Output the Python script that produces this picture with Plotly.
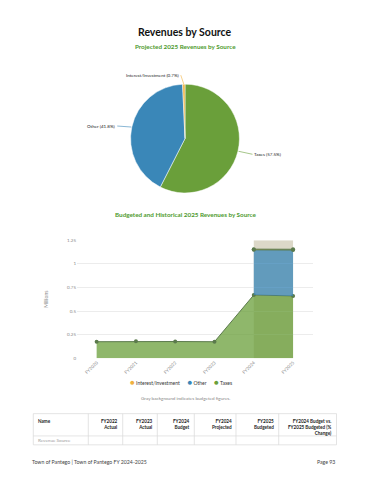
import math
import plotly.graph_objects as go

# ---------------- data ----------------
pie_labels = ["Taxes", "Other", "Interest/Investment"]
pie_values = [57.5, 41.8, 0.7]
pie_colors = ["#6a9f3a", "#3a87b8", "#f0b13f"]

years = ["FY2020", "FY2021", "FY2022", "FY2023", "FY2024", "FY2025"]
taxes = [0.175, 0.180, 0.177, 0.175, 0.670, 0.660]
other = [None, None, None, None, 0.478, 0.486]
interest = [None, None, None, None, 0.007, 0.008]
budgeted_years = ["FY2024", "FY2025"]
y_ticks = [0, 0.25, 0.5, 0.75, 1, 1.25]
y_tick_text = ["0", "0.25", "0.5", "0.75", "1", "1.25"]

legend_names = ["Interest/Investment", "Other", "Taxes"]
legend_colors = ["#f0b13f", "#3a87b8", "#6a9f3a"]

table_headers = ["Name", "FY2022<br>Actual", "FY2023<br>Actual", "FY2024<br>Budget",
                 "FY2024<br>Projected", "FY2025<br>Budgeted",
                 "FY2024 Budget vs.<br>FY2025 Budgeted (%<br>Change)"]
table_rows = [["Revenue Source", "", "", "", "", "", ""]]

W, H = 370, 480
def px(x): return x / W
def py(y): return 1 - y / H

GREEN = "#4e9a2e"
FONT = "Lato"
fig = go.Figure()

# ---------------- pie ----------------
cx, cy, r = 185, 138, 55
fig.add_trace(go.Pie(
    labels=pie_labels, values=pie_values, sort=False, direction="clockwise", rotation=0,
    marker=dict(colors=pie_colors, line=dict(color="white", width=0.5)),
    textinfo="none", hoverinfo="label+percent", showlegend=False,
    domain=dict(x=[px(cx - r), px(cx + r)], y=[py(cy + r), py(cy - r)]),
))

total = sum(pie_values)
start = 0.0
label_offsets = {"Taxes": (14, 3, "left"), "Other": (-14, -1, "right"),
                 "Interest/Investment": (-3, -9, "right")}
for lab, val, col in zip(pie_labels, pie_values, pie_colors):
    frac = val / total
    mid = (start + frac / 2) * 2 * math.pi
    start += frac
    ex = cx + r * math.sin(mid)
    ey = cy - r * math.cos(mid)
    dx, dy, anc = label_offsets[lab]
    fig.add_annotation(
        x=px(ex), y=py(ey), xref="paper", yref="paper",
        text=f"{lab} ({val:.1f}%)", showarrow=True, arrowhead=0, arrowwidth=0.6,
        arrowcolor=col, ax=dx, ay=dy, xanchor=anc, yanchor="middle",
        font=dict(size=4.5, color="#222", family=FONT), standoff=0,
    )

# ---------------- area chart ----------------
x_idx = list(range(len(years)))
line_col = "#5b7a4c"

fig.add_trace(go.Scatter(
    x=x_idx, y=taxes, name="Taxes", mode="lines+markers", fill="tozeroy",
    fillcolor="rgba(106,159,58,0.75)", line=dict(color=line_col, width=1),
    marker=dict(size=4, color=line_col), showlegend=False, xaxis="x", yaxis="y"))

base = list(taxes)
for name, vals, fc in [("Other", other, "rgba(58,135,184,0.75)"),
                       ("Interest/Investment", interest, "rgba(240,177,63,0.8)")]:
    xs = [i for i, v in enumerate(vals) if v is not None]
    bot = [base[i] for i in xs]
    top = [base[i] + vals[i] for i in xs]
    fig.add_trace(go.Scatter(
        x=xs + xs[::-1], y=top + bot[::-1], fill="toself", fillcolor=fc,
        mode="lines", line=dict(width=0), hoverinfo="skip", showlegend=False,
        xaxis="x", yaxis="y"))
    fig.add_trace(go.Scatter(
        x=xs, y=top, name=name, mode="lines+markers", line=dict(color=line_col, width=1),
        marker=dict(size=4, color=line_col), showlegend=False, xaxis="x", yaxis="y"))
    for i in xs:
        base[i] = base[i] + vals[i]

b0 = years.index(budgeted_years[0])
b1 = years.index(budgeted_years[-1])
fig.add_shape(type="rect", xref="x", yref="y", x0=b0, x1=b1, y0=0, y1=y_ticks[-1],
              fillcolor="#dcd8c8", line=dict(width=0), layer="below")

fig.update_layout(
    width=W, height=H, margin=dict(l=0, r=0, t=0, b=0),
    paper_bgcolor="white", plot_bgcolor="white", showlegend=False,
    font=dict(family=FONT, color="#333"),
    xaxis=dict(domain=[px(77), px(312.7)], range=[-0.5, 5.5], tickmode="array",
               tickvals=x_idx, ticktext=years, tickangle=-45,
               tickfont=dict(size=4.5, color="#888"), showgrid=False, zeroline=False,
               showline=False, ticks="", anchor="y"),
    yaxis=dict(domain=[py(360), py(240.7)], range=[0, y_ticks[-1]], tickmode="array",
               tickvals=y_ticks, ticktext=y_tick_text,
               tickfont=dict(size=4.5, color="#888"), gridcolor="#ececec", gridwidth=0.8,
               zeroline=False, showline=False, anchor="x",
               title=dict(text="Millions", font=dict(size=5, color="#888"), standoff=18)),
)

# legend built as text
leg = "&nbsp;&nbsp;&nbsp;&nbsp;&nbsp;&nbsp;".join(
    f"<span style='color:{c};font-size:8px'>●</span> {n}"
    for n, c in zip(legend_names, legend_colors))
fig.add_annotation(x=px(181), y=py(384), xref="paper", yref="paper", text=leg,
                   showarrow=False, xanchor="center", yanchor="middle",
                   font=dict(size=5, color="#333", family=FONT))

# ---------------- table (drawn) ----------------
col_edges = [33.3, 88.3, 122.7, 157.3, 194.3, 236, 278.7, 336.5]
t_top, t_mid, t_bot = 416, 438.5, 447.5
line_c = "#d8d8d8"
for xe in col_edges:
    fig.add_shape(type="line", xref="paper", yref="paper", x0=px(xe), x1=px(xe),
                  y0=py(t_top), y1=py(t_bot), line=dict(color=line_c, width=0.7))
for ye in [t_top, t_mid, t_bot]:
    fig.add_shape(type="line", xref="paper", yref="paper", x0=px(col_edges[0]),
                  x1=px(col_edges[-1]), y0=py(ye), y1=py(ye), line=dict(color=line_c, width=0.7))
for j, h in enumerate(table_headers):
    if j == 0:
        xa, anc = col_edges[0] + 2.5, "left"
    else:
        xa, anc = col_edges[j + 1] - 2.5, "right"
    fig.add_annotation(x=px(xa), y=py(t_top + 2), xref="paper", yref="paper",
                       text=f"<b>{h}</b>", showarrow=False, xanchor=anc, yanchor="top",
                       align=anc, font=dict(size=4.6, color="#222", family=FONT))
for row in table_rows:
    for j, v in enumerate(row):
        if v:
            fig.add_annotation(x=px(col_edges[j] + 2.5), y=py((t_mid + t_bot) / 2),
                               xref="paper", yref="paper", text=v, showarrow=False,
                               xanchor="left", yanchor="middle",
                               font=dict(size=4.6, color="#999", family=FONT))

# ---------------- texts ----------------
def txt(x, y, s, size, color, anchor="center", bold=False):
    fig.add_annotation(x=px(x), y=py(y), xref="paper", yref="paper",
                       text=f"<b>{s}</b>" if bold else s, showarrow=False,
                       xanchor=anchor, yanchor="middle",
                       font=dict(size=size, color=color, family=FONT))

txt(185, 30, "Revenues by Source", 10.5, "#111", bold=True)
txt(185, 45, "Projected 2025 Revenues by Source", 6.3, GREEN, bold=True)
txt(185, 215, "Budgeted and Historical 2025 Revenues by Source", 6.3, GREEN, bold=True)
txt(185, 400, "Gray background indicates budgeted figures.", 4.6, "#888")
txt(30, 465, "Town of Pantego | Town of Pantego FY 2024-2025", 5.2, "#444", anchor="left")
txt(337, 465, "Page 93", 5.2, "#444", anchor="right")

fig.write_html("out.html", config={"displayModeBar": False},
               post_script="document.body.style.margin='0';")
